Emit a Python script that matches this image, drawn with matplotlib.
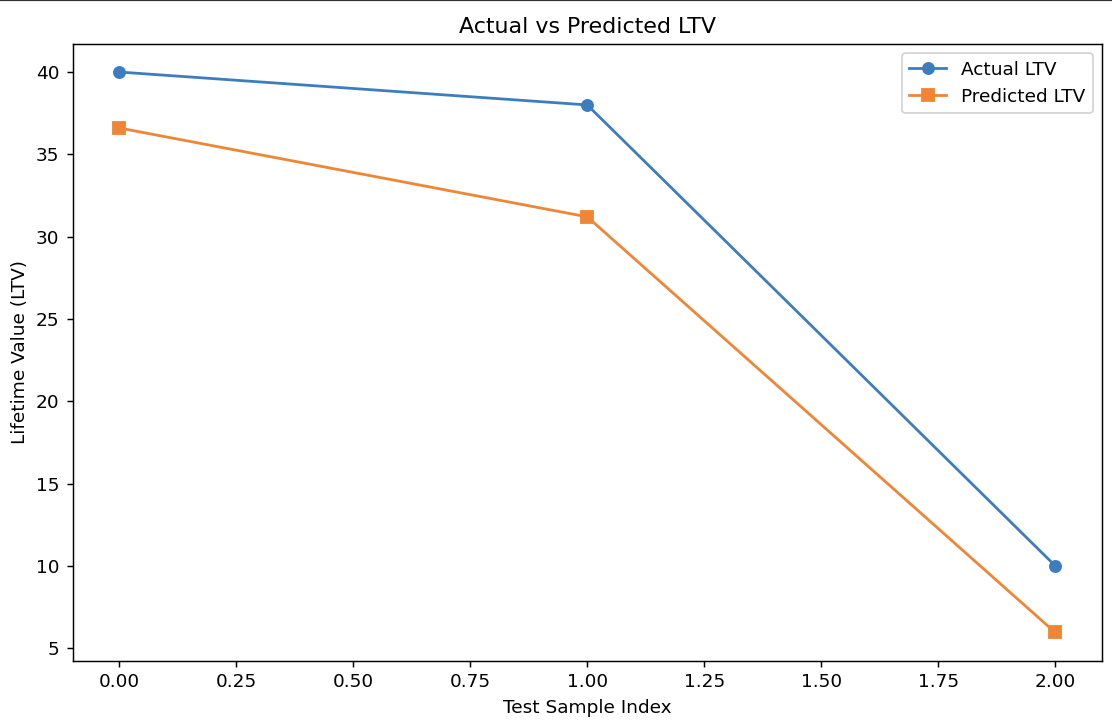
import matplotlib
matplotlib.use("Agg")
import matplotlib.pyplot as plt
from matplotlib.lines import Line2D

# test sample data
sample_idx = [0, 1, 2]
actual_ltv = [40.0, 38.0, 10.0]
predicted_ltv = [36.6, 31.2, 5.95]

DPI = 133
W, H = 1112, 726
fig = plt.figure(figsize=(W / DPI, H / DPI), dpi=DPI)
ax = fig.add_axes([72.5 / W, 1 - 660.5 / H, (1102 - 72.5) / W, (660.5 - 44) / H])

ax.plot(sample_idx, actual_ltv, marker="o", color="#3d7dbf", label="Actual LTV")
ax.plot(sample_idx, predicted_ltv, marker="s", color="#ef8636", label="Predicted LTV")

ax.set_title("Actual vs Predicted LTV", fontsize=12)
ax.set_xlabel("Test Sample Index")
ax.set_ylabel("Lifetime Value (LTV)")
ax.legend()

# border line across the top of the screenshot
fig.add_artist(Line2D([0, 1], [0.9995, 0.9995], color="#333333", lw=1.2, transform=fig.transFigure))

fig.savefig("out.png", dpi=DPI)
